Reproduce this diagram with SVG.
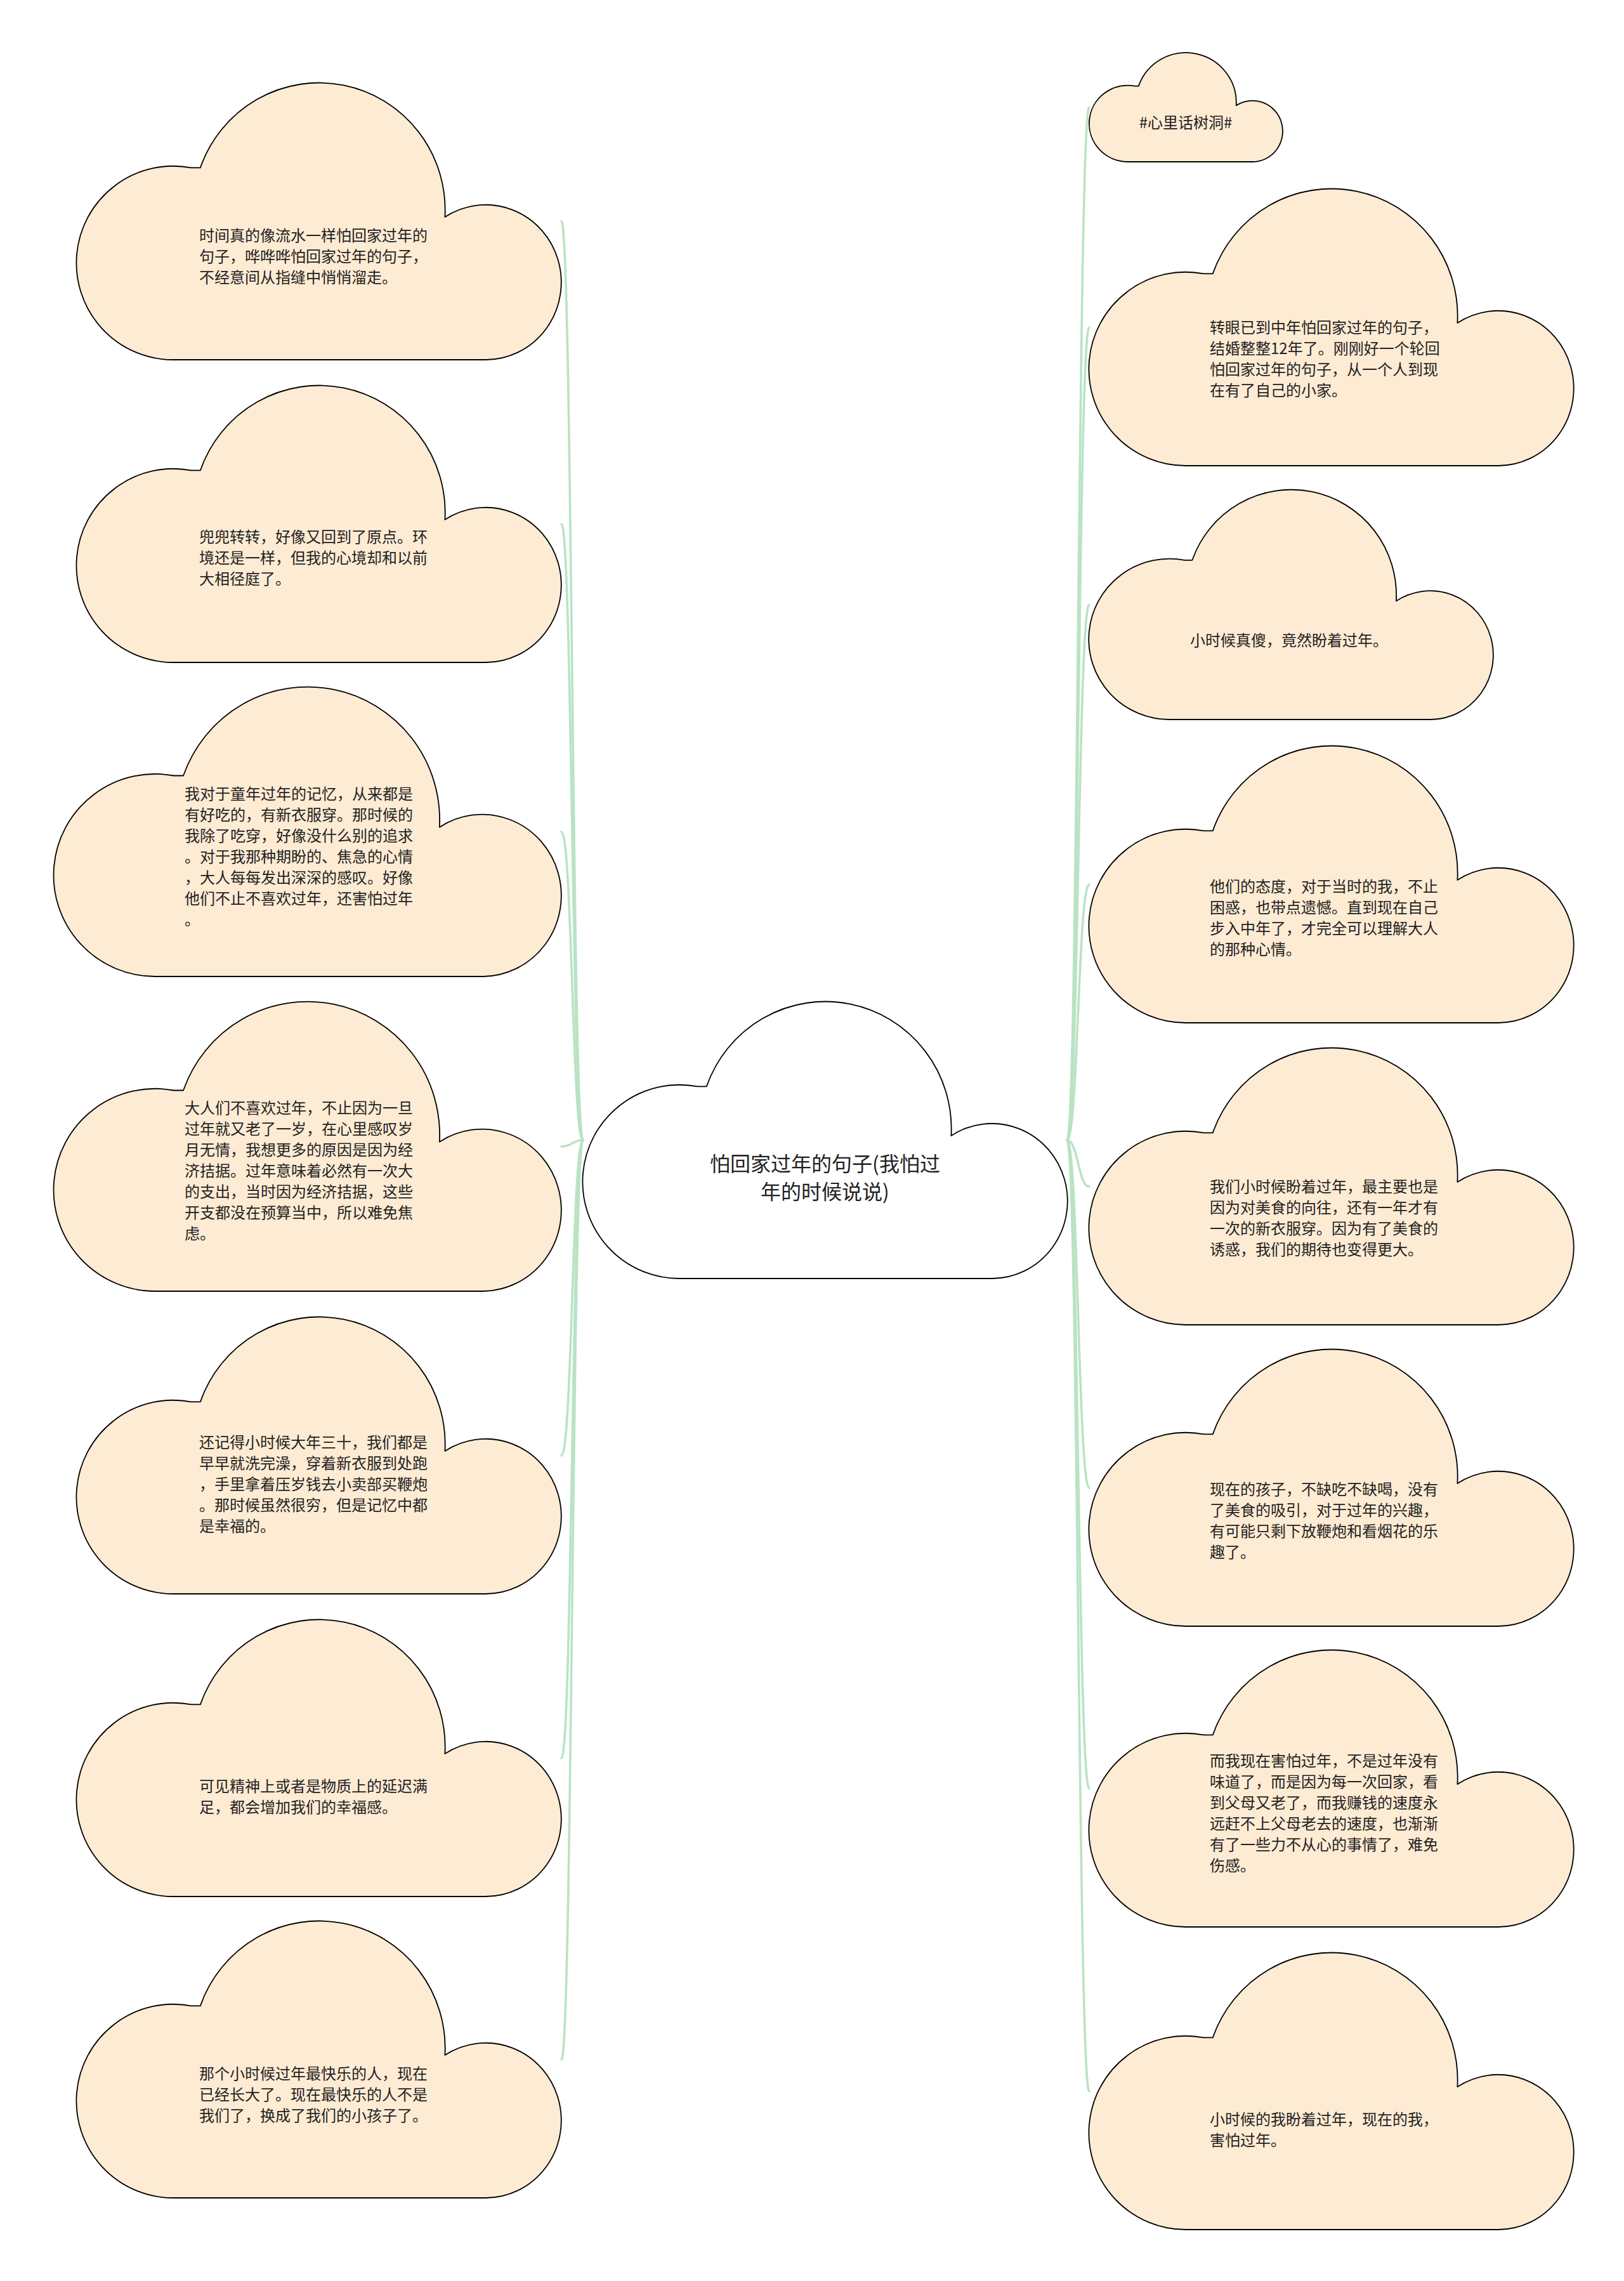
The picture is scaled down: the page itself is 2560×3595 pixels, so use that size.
<svg xmlns="http://www.w3.org/2000/svg" xmlns:xlink="http://www.w3.org/1999/xlink" width="2560" height="3595" viewBox="0 0 2560 3595">
<style>
.cloud{fill:#feebd3;stroke:#000;stroke-width:1.8;stroke-linejoin:round}
.root{fill:#ffffff;stroke:#000;stroke-width:1.8;stroke-linejoin:round}
.t{font-family:"Noto Sans CJK SC","Noto Sans",sans-serif;font-size:24px;fill:#222}
.tc{font-family:"Noto Sans CJK SC","Noto Sans",sans-serif;font-size:24px;fill:#222;text-anchor:middle}
.tr{font-family:"Noto Sans CJK SC","Noto Sans",sans-serif;font-size:32px;fill:#222;text-anchor:middle}
.link{fill:none;stroke:#b9e3c4;stroke-width:3.6;stroke-linecap:round}
</style>
<defs>
<path id="cA" d="M152.8 436 A152.8 152.6 0 1 1 180.3 133.4 L194.8 133.4 A198.6 200.6 0 0 1 580.4 211 A119.2 122.1 0 1 1 644.8 436 Z"/>
<path id="cB" d="M160 456 A160 159.6 0 1 1 188.8 139.5 L204 139.5 A208 209.8 0 0 1 607.8 220.7 A124.8 127.7 0 1 1 675.2 456 Z"/>
<path id="cS" d="M61 172 A61 60.2 0 1 1 72 52.6 L77.8 52.6 A79.3 79.1 0 0 1 231.7 83.2 A47.6 48.2 0 1 1 257.4 172 Z"/>
<path id="cM" d="M127.4 362 A127.4 126.7 0 1 1 150.3 110.8 L162.4 110.8 A165.6 166.5 0 0 1 483.9 175.2 A99.4 101.4 0 1 1 537.6 362 Z"/>
</defs>

<g id="connectors">
<path class="link" d="M919 1797 C902 1797 902 349 885 349"/>
<path class="link" d="M919 1797 C902 1797 902 826 885 826"/>
<path class="link" d="M919 1797 C902 1797 902 1311 885 1311"/>
<path class="link" d="M919 1797 C902 1797 902 1807 885 1807"/>
<path class="link" d="M919 1797 C902 1797 902 2294 885 2294"/>
<path class="link" d="M919 1797 C902 1797 902 2771 885 2771"/>
<path class="link" d="M919 1797 C902 1797 902 3246 885 3246"/>
<path class="link" d="M1682 1797 C1699.5 1797 1699.5 169 1717 169"/>
<path class="link" d="M1682 1797 C1699.5 1797 1699.5 516 1717 516"/>
<path class="link" d="M1682 1797 C1699.5 1797 1699.5 953 1717 953"/>
<path class="link" d="M1682 1797 C1699.5 1797 1699.5 1394 1717 1394"/>
<path class="link" d="M1682 1797 C1699.5 1797 1699.5 1870 1717 1870"/>
<path class="link" d="M1682 1797 C1699.5 1797 1699.5 2345 1717 2345"/>
<path class="link" d="M1682 1797 C1699.5 1797 1699.5 2819 1717 2819"/>
<path class="link" d="M1682 1797 C1699.5 1797 1699.5 3296 1717 3296"/>
</g>

<g id="root">
<use href="#cA" x="919" y="1579" class="root"/>
<text class="tr"><tspan x="1300.5" y="1846">怕回家过年的句子(我怕过</tspan><tspan x="1300.5" y="1890">年的时候说说)</tspan></text>
</g>

<g id="L1">
<use href="#cA" x="121" y="131" class="cloud"/>
<text class="t"><tspan x="314" y="380">时间真的像流水一样怕回家过年的</tspan><tspan x="314" y="413">句子，哗哗哗怕回家过年的句子，</tspan><tspan x="314" y="446">不经意间从指缝中悄悄溜走。</tspan></text>
</g>
<g id="L2">
<use href="#cA" x="121" y="608" class="cloud"/>
<text class="t"><tspan x="314" y="855">兜兜转转，好像又回到了原点。环</tspan><tspan x="314" y="888">境还是一样，但我的心境却和以前</tspan><tspan x="314" y="921">大相径庭了。</tspan></text>
</g>
<g id="L3">
<use href="#cB" x="85" y="1083" class="cloud"/>
<text class="t"><tspan x="291" y="1260">我对于童年过年的记忆，从来都是</tspan><tspan x="291" y="1293">有好吃的，有新衣服穿。那时候的</tspan><tspan x="291" y="1326">我除了吃穿，好像没什么别的追求</tspan><tspan x="291" y="1359">。对于我那种期盼的、焦急的心情</tspan><tspan x="291" y="1392">，大人每每发出深深的感叹。好像</tspan><tspan x="291" y="1425">他们不止不喜欢过年，还害怕过年</tspan><tspan x="291" y="1458">。</tspan></text>
</g>
<g id="L4">
<use href="#cB" x="85" y="1579" class="cloud"/>
<text class="t"><tspan x="291" y="1755">大人们不喜欢过年，不止因为一旦</tspan><tspan x="291" y="1788">过年就又老了一岁，在心里感叹岁</tspan><tspan x="291" y="1821">月无情，我想更多的原因是因为经</tspan><tspan x="291" y="1854">济拮据。过年意味着必然有一次大</tspan><tspan x="291" y="1887">的支出，当时因为经济拮据，这些</tspan><tspan x="291" y="1920">开支都没在预算当中，所以难免焦</tspan><tspan x="291" y="1953">虑。</tspan></text>
</g>
<g id="L5">
<use href="#cA" x="121" y="2076" class="cloud"/>
<text class="t"><tspan x="314" y="2282">还记得小时候大年三十，我们都是</tspan><tspan x="314" y="2315">早早就洗完澡，穿着新衣服到处跑</tspan><tspan x="314" y="2348">，手里拿着压岁钱去小卖部买鞭炮</tspan><tspan x="314" y="2381">。那时候虽然很穷，但是记忆中都</tspan><tspan x="314" y="2414">是幸福的。</tspan></text>
</g>
<g id="L6">
<use href="#cA" x="121" y="2553" class="cloud"/>
<text class="t"><tspan x="314" y="2824">可见精神上或者是物质上的延迟满</tspan><tspan x="314" y="2857">足，都会增加我们的幸福感。</tspan></text>
</g>
<g id="L7">
<use href="#cA" x="121" y="3028" class="cloud"/>
<text class="t"><tspan x="314" y="3277">那个小时候过年最快乐的人，现在</tspan><tspan x="314" y="3310">已经长大了。现在最快乐的人不是</tspan><tspan x="314" y="3343">我们了，换成了我们的小孩子了。</tspan></text>
</g>

<g id="R0">
<use href="#cS" x="1717" y="83" class="cloud"/>
<text class="tc" x="1869" y="202">#心里话树洞#</text>
</g>
<g id="R1">
<use href="#cA" x="1717" y="298" class="cloud"/>
<text class="t"><tspan x="1907" y="525">转眼已到中年怕回家过年的句子，</tspan><tspan x="1907" y="558">结婚整整12年了。刚刚好一个轮回</tspan><tspan x="1907" y="591">怕回家过年的句子，从一个人到现</tspan><tspan x="1907" y="624">在有了自己的小家。</tspan></text>
</g>
<g id="R2">
<use href="#cM" x="1717" y="772" class="cloud"/>
<text class="tc" x="2032" y="1018">小时候真傻，竟然盼着过年。</text>
</g>
<g id="R3">
<use href="#cA" x="1717" y="1176" class="cloud"/>
<text class="t"><tspan x="1907" y="1406">他们的态度，对于当时的我，不止</tspan><tspan x="1907" y="1439">困惑，也带点遗憾。直到现在自己</tspan><tspan x="1907" y="1472">步入中年了，才完全可以理解大人</tspan><tspan x="1907" y="1505">的那种心情。</tspan></text>
</g>
<g id="R4">
<use href="#cA" x="1717" y="1652" class="cloud"/>
<text class="t"><tspan x="1907" y="1879">我们小时候盼着过年，最主要也是</tspan><tspan x="1907" y="1912">因为对美食的向往，还有一年才有</tspan><tspan x="1907" y="1945">一次的新衣服穿。因为有了美食的</tspan><tspan x="1907" y="1978">诱惑，我们的期待也变得更大。</tspan></text>
</g>
<g id="R5">
<use href="#cA" x="1717" y="2127" class="cloud"/>
<text class="t"><tspan x="1907" y="2356">现在的孩子，不缺吃不缺喝，没有</tspan><tspan x="1907" y="2389">了美食的吸引，对于过年的兴趣，</tspan><tspan x="1907" y="2422">有可能只剩下放鞭炮和看烟花的乐</tspan><tspan x="1907" y="2455">趣了。</tspan></text>
</g>
<g id="R6">
<use href="#cA" x="1717" y="2601" class="cloud"/>
<text class="t"><tspan x="1907" y="2784">而我现在害怕过年，不是过年没有</tspan><tspan x="1907" y="2817">味道了，而是因为每一次回家，看</tspan><tspan x="1907" y="2850">到父母又老了，而我赚钱的速度永</tspan><tspan x="1907" y="2883">远赶不上父母老去的速度，也渐渐</tspan><tspan x="1907" y="2916">有了一些力不从心的事情了，难免</tspan><tspan x="1907" y="2949">伤感。</tspan></text>
</g>
<g id="R7">
<use href="#cA" x="1717" y="3078" class="cloud"/>
<text class="t"><tspan x="1907" y="3349">小时候的我盼着过年，现在的我，</tspan><tspan x="1907" y="3382">害怕过年。</tspan></text>
</g>
</svg>
